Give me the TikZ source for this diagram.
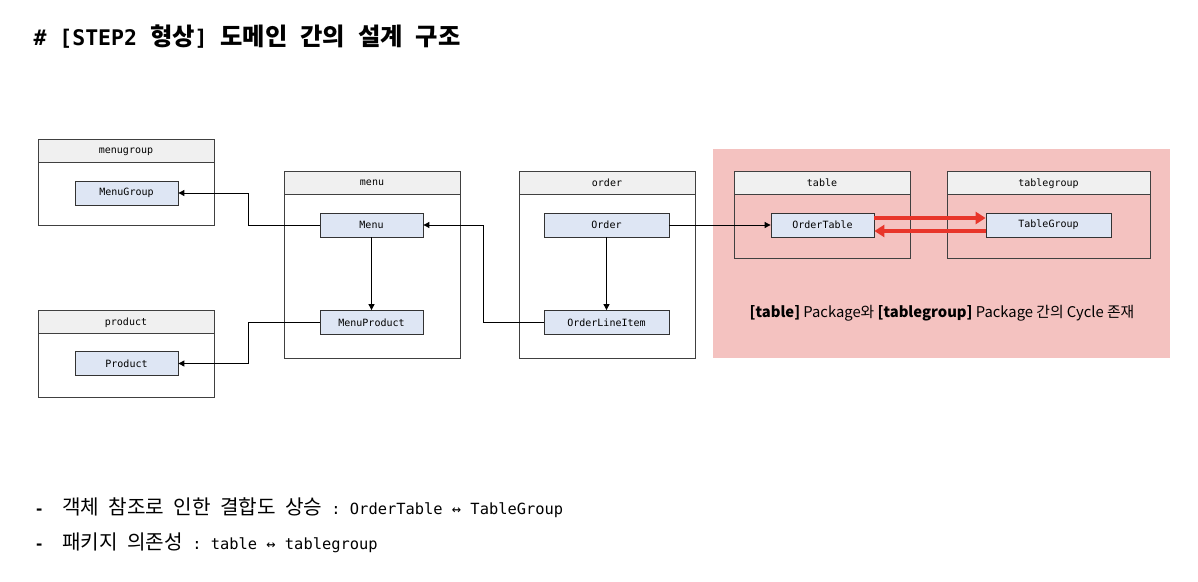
\documentclass[tikz,border=0pt]{standalone}
\usepackage{fontspec}
\setmainfont{Noto Sans CJK KR}
\setmonofont{DejaVu Sans Mono}
\newfontfamily\kr[Scale=1.31]{Noto Sans CJK KR}
\newfontfamily\krtitle[Scale=1.13]{Noto Sans CJK KR}
\usetikzlibrary{arrows.meta}
\definecolor{clsblue}{HTML}{DEE6F4}
\definecolor{headgray}{HTML}{F0F0F0}
\definecolor{cyclepink}{HTML}{F4C2C0}
\definecolor{cyclered}{HTML}{E8352A}

\begin{document}
\begin{tikzpicture}[x=1pt,y=-1pt]
       \tikzstyle{pkg} = [rectangle, draw=black!75, line width=0.8pt, minimum width=176pt, minimum height=187pt, inner sep=0pt];
       \tikzstyle{pkghead} = [rectangle, draw=black!75, line width=0.8pt, fill=headgray, minimum width=176pt, minimum height=23pt, inner sep=0pt, anchor=north, text depth=0.5pt, font=\ttfamily\fontsize{10}{12}\selectfont];
       \tikzstyle{cls} = [rectangle, draw=black!80, line width=0.8pt, fill=clsblue, minimum width=103pt, minimum height=24pt, inner sep=0pt, font=\ttfamily\fontsize{10}{12}\selectfont];
       \tikzstyle{dep} = [-{Triangle[length=6pt,width=6pt]}, line width=0.9pt];
       \tikzstyle{cyclearrow} = [-{Triangle[length=10pt,width=12pt]}, line width=3.5pt, draw=cyclered];
       \useasboundingbox (0,0) rectangle (1198,581);
       \fill[cyclepink] (713,149) rectangle (1170,358);

       \node[anchor=west, font=\ttfamily\bfseries\fontsize{21.5}{24}\selectfont] (title) at (30,37) {\# [STEP2 {\krtitle 형상}] {\krtitle 도메인} {\krtitle 간의} {\krtitle 설계} {\krtitle 구조}};

       % packages
       \node[pkg, minimum height=86pt] (menugrouppkg) at (126,182) {};
       \node[pkghead] (menugrouphead) at (menugrouppkg.north) {menugroup};
       \node[pkg, minimum height=87pt] (productpkg) at (126,353.5) {};
       \node[pkghead] (producthead) at (productpkg.north) {product};
       \node[pkg] (menupkg) at (372,264.5) {};
       \node[pkghead] (menuhead) at (menupkg.north) {menu};
       \node[pkg] (orderpkg) at (607,264.5) {};
       \node[pkghead] (orderhead) at (orderpkg.north) {order};
       \node[pkg, minimum height=87pt] (tablepkg) at (822,214.5) {};
       \node[pkghead] (tablehead) at (tablepkg.north) {table};
       \node[pkg, minimum width=203pt, minimum height=87pt] (tablegrouppkg) at (1048.5,214.5) {};
       \node[pkghead, minimum width=203pt] (tablegrouphead) at (tablegrouppkg.north) {tablegroup};

       % classes
       \node[cls] (menugroup) at (126.5,193) {MenuGroup};
       \node[cls] (product) at (126.5,363.5) {Product};
       \node[cls] (menu) at (371.5,225) {Menu};
       \node[cls] (menuproduct) at (371.5,322.5) {MenuProduct};
       \node[cls, minimum width=125pt] (order) at (606.5,225) {Order};
       \node[cls, minimum width=125pt] (orderlineitem) at (606.5,322.5) {OrderLineItem};
       \node[cls] (ordertable) at (822.5,225) {OrderTable};
       \node[cls, minimum width=125pt] (tablegroup) at (1048.5,225) {TableGroup};

       \node[font=\fontsize{14.8}{17}\selectfont] (cyclenote) at (942,313) {\textbf{[table]} Package와 \textbf{[tablegroup]} Package 간의 Cycle 존재};

       \draw[dep] (menu.west) -- ++(-71,0) |- (menugroup.east);
       \draw[dep] (menuproduct.west) -- ++(-71,0) |- (product.east);
       \draw[dep] (menu) -- (menuproduct);
       \draw[dep] (orderlineitem.west) -- ++(-60,0) |- (menu.east);
       \draw[dep] (order) -- (orderlineitem);
       \draw[dep] (order.east) -- (ordertable.west);
       \draw[cyclearrow] ([yshift=7pt]ordertable.east) -- ([yshift=7pt]tablegroup.west);
       \draw[cyclearrow] ([yshift=-6pt]tablegroup.west) -- ([yshift=-6pt]ordertable.east);

       \node[anchor=west, font=\ttfamily\fontsize{15.4}{18}\selectfont] (note1) at (31,508) {\textbf{-}~~{\kr 객체} {\kr 참조로} {\kr 인한} {\kr 결합도} {\kr 상승} : OrderTable ↔ TableGroup};
       \node[anchor=west, font=\ttfamily\fontsize{15.4}{18}\selectfont] (note2) at (31,543) {\textbf{-}~~{\kr 패키지} {\kr 의존성} : table ↔ tablegroup};
     \end{tikzpicture}
\end{document}
